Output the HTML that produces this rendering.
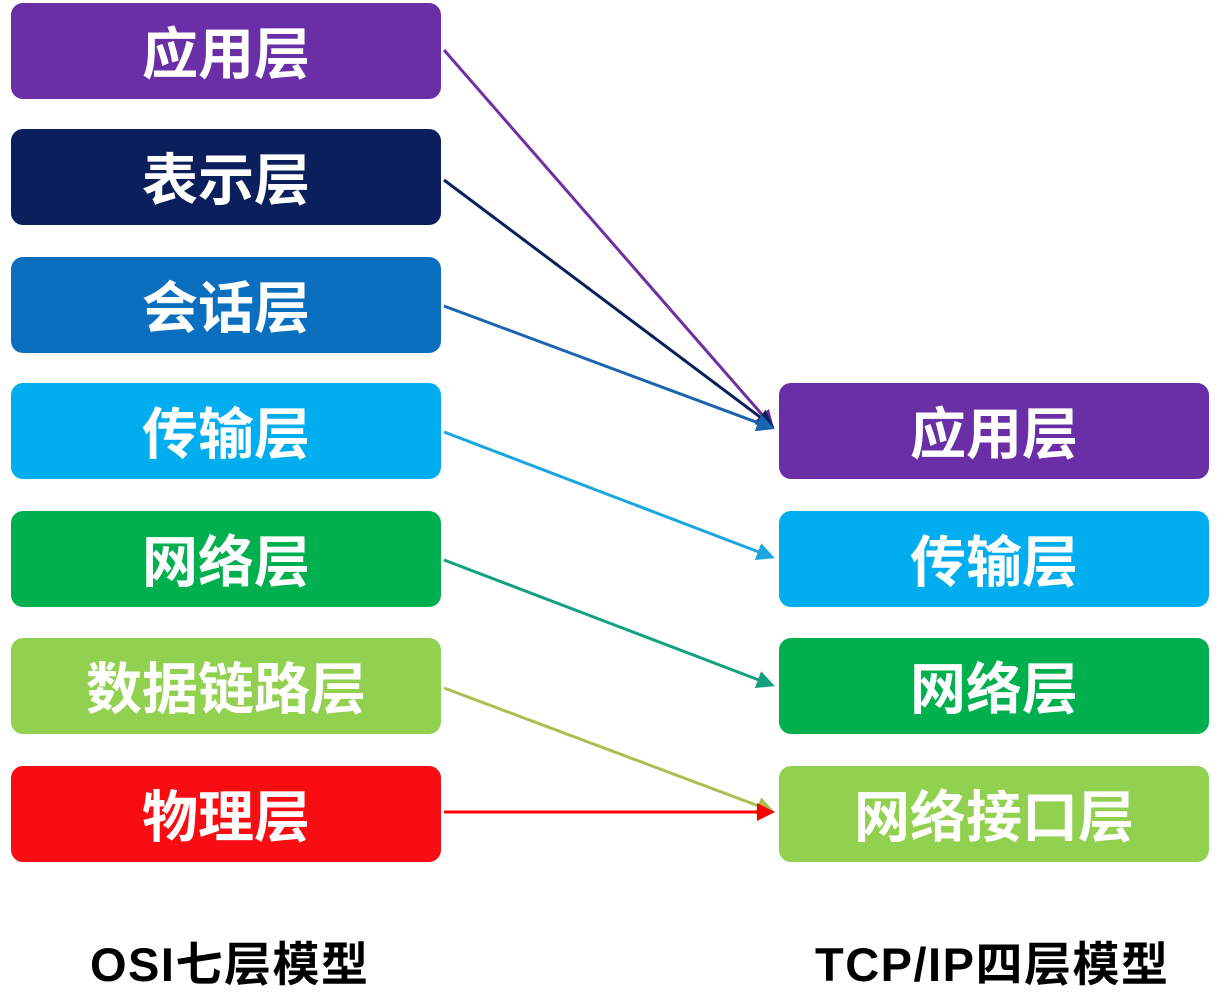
<!DOCTYPE html>
<html><head><meta charset="utf-8"><style>
body{margin:0;width:1232px;height:988px;background:#fff;position:relative;overflow:hidden;font-family:"Liberation Sans","Noto Sans CJK SC",sans-serif}
.b{position:absolute;width:430px;height:96px;border-radius:12px;color:#fff;font-weight:bold;font-size:56px;line-height:96px;text-align:center;font-family:"Noto Sans CJK SC",sans-serif}
.l{left:11px}.r{left:779px}
.t{position:absolute;top:926px;font-size:47px;letter-spacing:1.5px;font-weight:bold;color:#000;font-family:"Liberation Sans","Noto Sans CJK SC",sans-serif;white-space:nowrap}
svg{position:absolute;left:0;top:0}
</style></head><body>
<div class="b l" style="top:3px;background:#6a2ea6">应用层</div>
<div class="b l" style="top:129px;background:#0a1f5c">表示层</div>
<div class="b l" style="top:257px;background:#0a6fbf">会话层</div>
<div class="b l" style="top:383px;background:#00aef0">传输层</div>
<div class="b l" style="top:511px;background:#00b04e">网络层</div>
<div class="b l" style="top:638px;background:#92d050">数据链路层</div>
<div class="b l" style="top:766px;background:#f70d12">物理层</div>
<div class="b r" style="top:383px;background:#6a2ea6">应用层</div>
<div class="b r" style="top:511px;background:#00aef0">传输层</div>
<div class="b r" style="top:638px;background:#00b04e">网络层</div>
<div class="b r" style="top:766px;background:#92d050">网络接口层</div>
<svg width="1232" height="988">
<defs>
<marker id="m1" markerWidth="6" markerHeight="6" refX="5" refY="3" orient="auto" markerUnits="strokeWidth"><path d="M0,0L6,3L0,6z" fill="#7030a0"/></marker>
<marker id="m2" markerWidth="6" markerHeight="6" refX="5" refY="3" orient="auto" markerUnits="strokeWidth"><path d="M0,0L6,3L0,6z" fill="#0a1f5c"/></marker>
<marker id="m3" markerWidth="6" markerHeight="6" refX="5" refY="3" orient="auto" markerUnits="strokeWidth"><path d="M0,0L6,3L0,6z" fill="#1a64b0"/></marker>
<marker id="m4" markerWidth="6" markerHeight="6" refX="5" refY="3" orient="auto" markerUnits="strokeWidth"><path d="M0,0L6,3L0,6z" fill="#1aa6e0"/></marker>
<marker id="m5" markerWidth="6" markerHeight="6" refX="5" refY="3" orient="auto" markerUnits="strokeWidth"><path d="M0,0L6,3L0,6z" fill="#12a080"/></marker>
<marker id="m6" markerWidth="6" markerHeight="6" refX="5" refY="3" orient="auto" markerUnits="strokeWidth"><path d="M0,0L6,3L0,6z" fill="#a8c050"/></marker>
<marker id="m7" markerWidth="6" markerHeight="6" refX="5" refY="3" orient="auto" markerUnits="strokeWidth"><path d="M0,0L6,3L0,6z" fill="#f00"/></marker>
</defs>
<g stroke-width="3" fill="none">
<line x1="444" y1="50" x2="772" y2="426" stroke="#7030a0" marker-end="url(#m1)"/>
<line x1="444" y1="180" x2="772" y2="426" stroke="#0a1f5c" marker-end="url(#m2)"/>
<line x1="444" y1="306" x2="772" y2="428" stroke="#1a64b0" marker-end="url(#m3)"/>
<line x1="444" y1="432" x2="772" y2="557" stroke="#1aa6e0" marker-end="url(#m4)"/>
<line x1="444" y1="560" x2="772" y2="685" stroke="#12a080" marker-end="url(#m5)"/>
<line x1="444" y1="688" x2="772" y2="811" stroke="#a8c050" marker-end="url(#m6)"/>
<line x1="444" y1="812" x2="772" y2="812" stroke="#f00" marker-end="url(#m7)"/>
</g>
</svg>
<div class="t" style="left:90px">OSI七层模型</div>
<div class="t" style="left:815px">TCP/IP四层模型</div>
</body></html>
